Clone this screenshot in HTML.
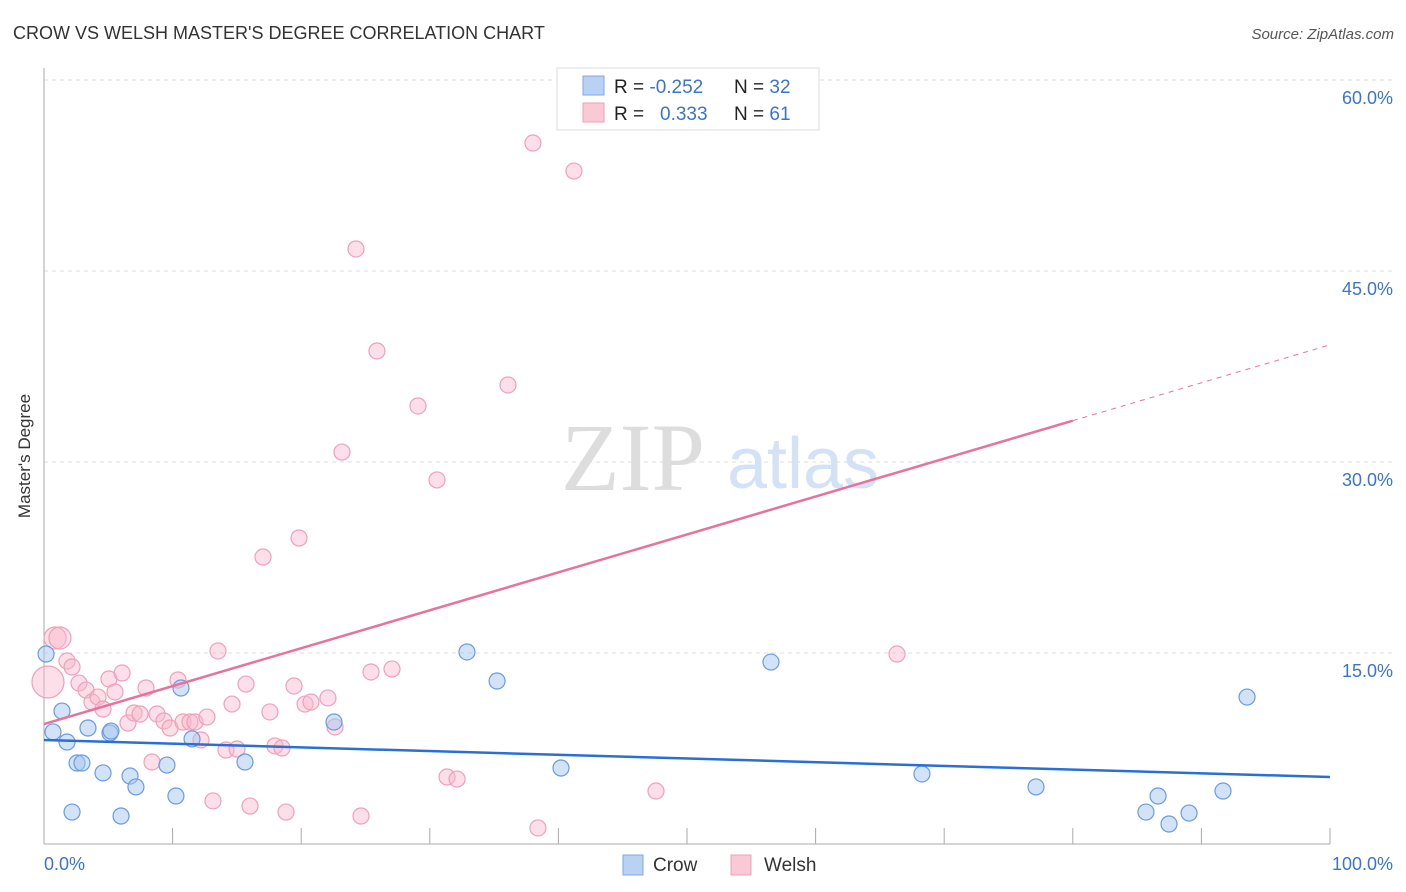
<!DOCTYPE html>
<html><head><meta charset="utf-8"><style>
body{margin:0;background:#fff;font-family:"Liberation Sans",sans-serif;}
svg{display:block}
</style></head><body>
<svg id="chart" width="1406" height="892" xmlns="http://www.w3.org/2000/svg">
<text x="13" y="39" font-size="18" fill="#333">CROW VS WELSH MASTER'S DEGREE CORRELATION CHART</text>
<text x="1394" y="39" font-size="15" fill="#555" font-style="italic" text-anchor="end">Source: ZipAtlas.com</text>
<text x="30" y="456" font-size="17" fill="#333" text-anchor="middle" transform="rotate(-90 30 456)">Master's Degree</text>
<g id="grid"></g>
<g id="yticks"></g>
<line x1="44" y1="68" x2="44" y2="844" stroke="#aaa" stroke-width="1"/>
<line x1="44" y1="844" x2="1330" y2="844" stroke="#aaa" stroke-width="1"/>
<g id="xticks"></g>
<text x="44" y="870" font-size="18" fill="#3a74d0">0.0%</text>
<text x="1393" y="870" font-size="18" fill="#3a74d0" text-anchor="end">100.0%</text>
<text x="633" y="490" font-size="96" fill="#ddd" font-family="Liberation Serif,serif" text-anchor="middle">ZIP</text>
<text x="803" y="488" font-size="72" fill="#d4e2f5" text-anchor="middle">atlas</text>
<g id="pts"></g>
<g id="lines"></g>
<g>
<rect x="557" y="68" width="262" height="62" fill="#fff" stroke="#ddd"/>
<rect x="583" y="76" width="21" height="19" fill="#b9d2f3" stroke="#7fa8e0"/>
<rect x="583" y="103" width="21" height="19" fill="#f9c9d6" stroke="#f0a0b8"/>
<text x="614" y="93" font-size="19" fill="#222">R = <tspan fill="#3a74d0">-0.252</tspan><tspan x="734">N = </tspan><tspan fill="#3a74d0">32</tspan></text>
<text x="614" y="120" font-size="19" fill="#222">R = <tspan x="660" fill="#3a74d0">0.333</tspan><tspan x="734">N = </tspan><tspan fill="#3a74d0">61</tspan></text>
</g>
<g>
<rect x="623" y="855" width="20" height="20" fill="#b9d2f3" stroke="#7fa8e0"/>
<text x="653" y="871" font-size="19" fill="#333">Crow</text>
<rect x="731" y="855" width="20" height="20" fill="#f9c9d6" stroke="#f0a0b8"/>
<text x="764" y="871" font-size="19" fill="#333">Welsh</text>
</g>
</svg>
<script>
const yTicks=[15,30,45,60];
const xTickVals=[0,10,20,30,40,50,60,70,80,90,100];
const crowX=[0.16,0.70,1.40,1.79,2.18,2.57,2.95,3.42,4.59,5.13,5.21,5.99,6.69,7.15,9.56,10.26,10.65,11.51,15.63,22.55,32.89,35.23,40.20,56.53,68.27,77.14,85.69,86.63,87.48,89.04,91.68,93.55];
const crowY=[14.92,8.80,10.44,8.01,2.51,6.36,6.36,9.11,5.58,8.72,8.87,2.20,5.34,4.48,6.20,3.77,12.25,8.25,6.44,9.58,15.08,12.80,5.97,14.29,5.50,4.48,2.51,3.77,1.57,2.43,4.16,11.54];
const welshX=[0.31,0.86,1.24,1.79,2.18,2.72,3.27,3.73,4.20,4.59,5.05,5.52,6.07,6.53,7.00,7.47,7.93,8.40,8.79,9.33,9.80,10.42,10.81,11.35,11.74,12.21,12.67,13.14,13.53,14.15,14.62,15.01,15.71,16.02,17.03,17.57,17.96,18.51,18.82,19.44,19.83,20.30,20.76,22.08,22.63,23.17,24.26,24.65,25.43,25.89,27.06,29.08,30.56,31.34,32.12,36.08,38.02,38.41,41.21,47.59,66.33];
const welshY=[12.72,16.18,16.18,14.37,13.90,12.64,12.09,11.15,11.54,10.60,12.96,11.94,13.43,9.50,10.29,10.21,12.25,6.44,10.21,9.66,9.11,12.88,9.58,9.58,9.58,8.17,9.97,3.38,15.16,7.38,10.99,7.46,12.56,2.98,22.54,10.37,7.70,7.54,2.51,12.41,24.03,10.99,11.15,11.47,9.19,30.78,46.73,2.20,13.51,38.72,13.74,34.40,28.59,5.26,5.10,36.05,55.05,1.26,52.85,4.16,14.92];
const crowTrend=[8.17,5.26];
const welshTrend=[9.42,39.2];
const welshSolidEnd=80;
const NS='http://www.w3.org/2000/svg';
const X=v=>44+v*12.86, Y=v=>844-v*191/15;
function mk(t,a,p){const e=document.createElementNS(NS,t);for(const k in a)e.setAttribute(k,a[k]);p.appendChild(e);return e;}
const g=document.getElementById('grid'),yt=document.getElementById('yticks'),xt=document.getElementById('xticks');
yTicks.forEach(v=>{
 const l=mk('line',{x1:44,x2:1392,y1:Y(v),y2:Y(v),stroke:'#ddd','stroke-dasharray':'4,4'},g);
 
 
 const t=mk('text',{x:1393,y:Y(v)+24,'font-size':18,fill:'#3a74d0','text-anchor':'end'},yt);
 t.textContent=v.toFixed(1)+'%';
 
 
});
xTickVals.forEach(v=>{
 const l=mk('line',{x1:X(v),x2:X(v),y1:828,y2:844,stroke:'#aaa'},xt);
 
 
});
const pts=document.getElementById('pts');
welshX.forEach((x,i)=>{
 const c=mk('circle',{cx:X(x),cy:Y(welshY[i]),r:i==0?16:(i<3?11:8),fill:'rgba(248,185,205,0.45)',stroke:'#f0a0b8','stroke-width':1.2},pts);
 
 
});
crowX.forEach((x,i)=>{
 const c=mk('circle',{cx:X(x),cy:Y(crowY[i]),r:8,fill:'rgba(165,198,240,0.5)',stroke:'#6a9ce0','stroke-width':1.2},pts);
 
 
});
const ln=document.getElementById('lines');
const cl=mk('line',{x1:X(0),y1:Y(crowTrend[0]),x2:X(100),y2:Y(crowTrend[1]),stroke:'#2a6fd6','stroke-width':2.5},ln);


const wy=v=>welshTrend[0]+(welshTrend[1]-welshTrend[0])*v/100;
const wl=mk('line',{x1:X(0),y1:Y(wy(0)),x2:X(welshSolidEnd),y2:Y(wy(welshSolidEnd)),stroke:'#e8739a','stroke-width':2.5},ln);


const wd=mk('line',{x1:X(welshSolidEnd),y1:Y(wy(welshSolidEnd)),x2:X(100),y2:Y(wy(100)),stroke:'#e8739a','stroke-width':1,'stroke-dasharray':'5,5'},ln);


</script>
</body></html>
